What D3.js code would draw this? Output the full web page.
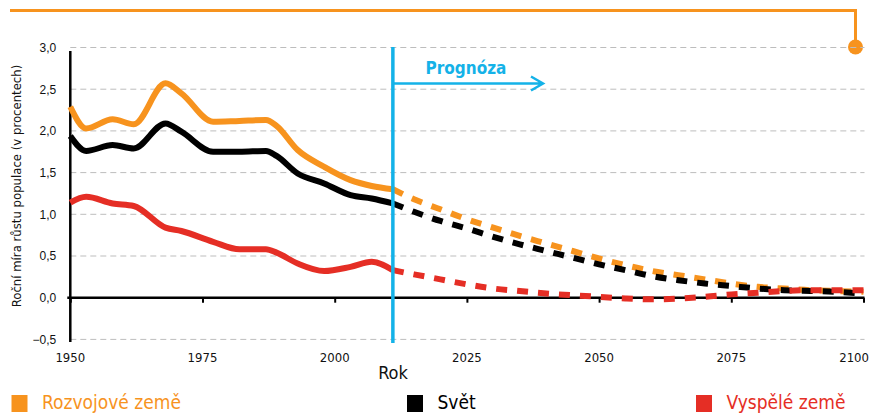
<!DOCTYPE html>
<html>
<head>
<meta charset="utf-8">
<script src="https://cdn.jsdelivr.net/npm/d3@7"></script>
<style>
  body { margin: 0; background: #fff; }
  svg { display: block; font-family: "DejaVu Sans Condensed", "DejaVu Sans", sans-serif; font-stretch: condensed; }
</style>
</head>
<body>
<svg id="chart" width="871" height="414"></svg>
<script>
// historie (rok 1950 - 2011)
var histYears = [1950, 1953, 1958, 1962, 1968, 1971, 1977, 1982, 1987, 1989, 1993, 1998, 2003, 2007, 2011];
var rozvojHist = [2.29, 2.03, 2.14, 2.08, 2.57, 2.45, 2.11, 2.12, 2.13, 2.06, 1.77, 1.57, 1.41, 1.34, 1.30];
var svetHist   = [1.94, 1.76, 1.83, 1.79, 2.09, 1.99, 1.75, 1.75, 1.76, 1.70, 1.49, 1.37, 1.23, 1.19, 1.13];
var vyspeleHist = [1.14, 1.21, 1.13, 1.10, 0.84, 0.80, 0.67, 0.58, 0.58, 0.54, 0.41, 0.32, 0.37, 0.43, 0.33];

// prognoza (2011 - 2100)
var projYears = [2011, 2015, 2020, 2025, 2030, 2035, 2040, 2045, 2050, 2055, 2060, 2065, 2070, 2075, 2080, 2085, 2090, 2095, 2100];
var rozvojProj = [1.30, 1.18, 1.06, 0.94, 0.84, 0.74, 0.65, 0.56, 0.47, 0.39, 0.32, 0.27, 0.22, 0.17, 0.13, 0.11, 0.09, 0.08, 0.07];
var svetProj   = [1.13, 1.03, 0.92, 0.83, 0.73, 0.64, 0.56, 0.48, 0.40, 0.33, 0.26, 0.21, 0.17, 0.14, 0.11, 0.09, 0.08, 0.07, 0.05];
var vyspeleProj = [0.33, 0.28, 0.22, 0.16, 0.11, 0.08, 0.05, 0.03, 0.01, -0.01, -0.02, -0.01, 0.01, 0.04, 0.06, 0.08, 0.09, 0.09, 0.09];

var xTicks = [1950, 1975, 2000, 2025, 2050, 2075, 2100];
var yTicks = [-0.5, 0, 0.5, 1, 1.5, 2, 2.5, 3];
var prognozaRok = 2011;

var orange = '#f7931e', red = '#e52e25', blue = '#14b2e8';

var svg = d3.select('#chart');

var x = d3.scaleLinear().domain([1950, 2100]).range([70.3, 863.5]);
var y = d3.scaleLinear().domain([-0.5, 3]).range([339.4, 47.5]);

// horni oranzova linka s kolečkem
svg.append('path')
  .attr('d', 'M10,10.5 H855.5 V40')
  .attr('fill', 'none').attr('stroke', orange).attr('stroke-width', 3);
svg.append('circle').attr('cx', 855.5).attr('cy', 47).attr('r', 7.5).attr('fill', orange);

// mrizka
svg.append('g').selectAll('line')
  .data(yTicks.filter(function (d) { return d !== 0; }))
  .enter().append('line')
  .attr('x1', x(1950)).attr('x2', x(2100) + 1)
  .attr('y1', function (d) { return y(d); }).attr('y2', function (d) { return y(d); })
  .attr('stroke', '#bdbdbd').attr('stroke-width', 1).attr('stroke-dasharray', '6,4');

// osa y
var yAxis = d3.axisLeft(y).tickValues(yTicks).tickSize(0).tickPadding(14)
  .tickFormat(function (d) { return d3.format('.1f')(d).replace('.', ',').replace('-', '\u2212'); });
var gy = svg.append('g').attr('transform', 'translate(' + x(1950) + ',0)').call(yAxis);
gy.select('.domain').remove();
gy.selectAll('text').attr('font-size', 12).attr('fill', '#111');
svg.append('line').attr('x1', x(1950)).attr('x2', x(1950)).attr('y1', 51).attr('y2', 342)
  .attr('stroke', '#000').attr('stroke-width', 2.5);

// osa x (na nule)
var xAxis = d3.axisBottom(x).tickValues(xTicks).tickSize(5).tickFormat(d3.format('d'));
var gx = svg.append('g').attr('transform', 'translate(0,' + y(0) + ')').call(xAxis);
gx.select('.domain').remove();
gx.selectAll('.tick line').attr('stroke', '#000').attr('stroke-width', 2);
gx.selectAll('text').remove();
svg.append('line').attr('x1', x(1950) - 3).attr('x2', x(2100) + 1).attr('y1', y(0)).attr('y2', y(0))
  .attr('stroke', '#000').attr('stroke-width', 2.5);

svg.append('g').selectAll('text')
  .data(xTicks).enter().append('text')
  .attr('x', function (d) { return d === 2100 ? 869 : x(d); }).attr('y', 361.5)
  .attr('text-anchor', function (d) { return d === 2100 ? 'end' : 'middle'; })
  .attr('font-size', 13).attr('fill', '#111')
  .text(function (d) { return d; });

svg.append('text').attr('x', 393).attr('y', 379).attr('text-anchor', 'middle')
  .attr('font-size', 18).attr('fill', '#111').text('Rok');

svg.append('text').attr('transform', 'translate(21,186) rotate(-90)')
  .attr('text-anchor', 'middle').attr('font-size', 13).attr('fill', '#111')
  .text('Roční míra růstu populace (v procentech)');

// linky
var line = d3.line()
  .x(function (d) { return x(d[0]); })
  .y(function (d) { return y(d[1]); })
  .curve(d3.curveMonotoneX);

var series = [
  { hist: rozvojHist, proj: rozvojProj, color: orange },
  { hist: svetHist, proj: svetProj, color: '#000' },
  { hist: vyspeleHist, proj: vyspeleProj, color: red }
];

series.forEach(function (s) {
  svg.append('path')
    .attr('d', line(d3.zip(histYears, s.hist)))
    .attr('fill', 'none').attr('stroke', s.color).attr('stroke-width', 6)
    .attr('stroke-linejoin', 'round');
});
series.forEach(function (s) {
  svg.append('path')
    .attr('d', line(d3.zip(projYears, s.proj)))
    .attr('fill', 'none').attr('stroke', s.color).attr('stroke-width', 6)
    .attr('stroke-dasharray', '11,10');
});

// prognoza
svg.append('line').attr('x1', x(prognozaRok)).attr('x2', x(prognozaRok)).attr('y1', 47).attr('y2', 343)
  .attr('stroke', blue).attr('stroke-width', 3.5);
svg.append('path')
  .attr('d', 'M' + x(prognozaRok) + ',83.5 H543 M531,76.5 L543,83.5 L531,90.5')
  .attr('fill', 'none').attr('stroke', blue).attr('stroke-width', 2.5);
svg.append('text').attr('x', 466).attr('y', 73.5).attr('text-anchor', 'middle')
  .attr('font-size', 17).attr('font-weight', 'bold').attr('fill', blue).text('Prognóza');

// legenda
var legend = [
  { name: 'Rozvojové země', color: orange, x: 11.5 },
  { name: 'Svět', color: '#000', x: 407 },
  { name: 'Vyspělé země', color: red, x: 696 }
];
var lg = svg.append('g').selectAll('g').data(legend).enter().append('g');
lg.append('rect').attr('x', function (d) { return d.x; }).attr('y', 395)
  .attr('width', 16).attr('height', 17).attr('fill', function (d) { return d.color; });
lg.append('text').attr('x', function (d) { return d.x + 30.5; }).attr('y', 409)
  .attr('font-size', 19).attr('fill', function (d) { return d.color; })
  .text(function (d) { return d.name; });
</script>
</body>
</html>
